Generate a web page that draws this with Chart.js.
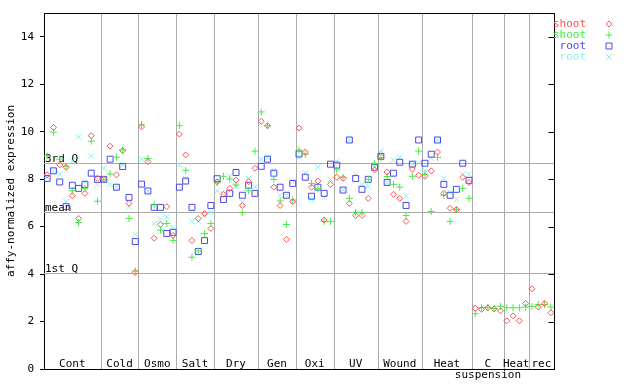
<!DOCTYPE html>
<html>
<head>
<meta charset="utf-8">
<script src="https://cdn.jsdelivr.net/npm/chart.js@4.4.0/dist/chart.umd.min.js"></script>
<style>
  body { margin: 0; background: #fff; }
</style>
</head>
<body>
<canvas id="expr-chart" width="640" height="384"></canvas>
<script>
// sample groups along the x axis (one x slot per sample)
const categories = ['Cont', 'Cold', 'Osmo', 'Salt', 'Dry', 'Gen', 'Oxi', 'UV', 'Wound', 'Heat', 'C\nsuspension', 'Heat', 'rec'];
const categorySizes = [9, 6, 6, 6, 7, 6, 6, 7, 7, 8, 5, 4, 4];

const seriesLabels = ['shoot', 'shoot', 'root', 'root'];
const seriesColors = ['#ff5252', '#44ee44', '#4a4af0', '#88f2f2'];

const shootRed = [
  8.18, 10.18, 8.6, 8.5, 7.3, 6.34, 7.4, 9.83, 8.04,
  8.0, 9.39, 8.18, 9.2, 6.98, 4.07,
  10.2, 8.74, 5.51, 6.09, 6.84, 5.63,
  9.9, 9.02, 5.41, 6.34, 6.55, 5.92,
  7.89, 7.36, 7.61, 7.96, 6.89, 7.89, 8.46,
  10.44, 10.25, 7.66, 6.89, 5.46, 7.05,
  10.15, 9.14, 7.66, 7.92, 6.28, 7.78,
  8.08, 8.03, 6.98, 6.47, 6.47, 7.19, 8.39,
  8.96, 8.3, 7.36, 7.19, 6.22, 8.42, 8.16,
  8.12, 8.35, 9.14, 7.4, 6.77, 6.72, 8.08, 7.86,
  2.56, 2.51, 2.58, 2.54, 2.45,
  2.03, 2.24, 2.03, 2.76,
  3.38, 2.61, 2.76, 2.37
];
const shootGreen = [
  8.98, 9.98, 8.84, 8.54, 7.51, 6.17, 7.61, 9.6, 7.07,
  8.0, 8.22, 8.92, 9.23, 6.34, 4.13,
  10.29, 8.87, 6.91, 5.85, 6.13, 5.42,
  10.25, 8.37, 4.71, 4.97, 5.71, 6.13,
  7.85, 8.12, 8.0, 7.75, 6.59, 7.51, 9.18,
  10.83, 10.25, 7.99, 7.08, 6.09, 7.12,
  9.23, 9.05, 7.82, 7.6, 6.22, 6.22,
  8.39, 8.08, 7.19, 6.6, 6.6, 7.99, 8.67,
  8.9, 8.11, 7.78, 7.66, 6.47, 8.12, 9.18,
  8.2, 6.64, 8.92, 7.32, 6.22, 6.72, 7.61, 7.19,
  2.33, 2.58, 2.6, 2.55, 2.64,
  2.58, 2.58, 2.58, 2.61,
  2.64, 2.72, 2.72, 2.61
];
const rootBlue = [
  8.03, 8.35, 7.88, 6.84, 7.74, 7.61, 7.78, 8.25, 7.99,
  7.99, 8.84, 7.66, 8.53, 7.23, 5.37,
  7.79, 7.5, 6.81, 6.81, 5.71, 5.76,
  7.66, 7.92, 6.81, 4.95, 5.41, 6.89,
  8.02, 7.14, 7.4, 8.28, 7.32, 7.74, 7.4,
  8.54, 8.84, 8.25, 7.66, 7.32, 7.82,
  9.06, 8.08, 7.28, 7.66, 7.4, 8.63,
  8.59, 7.54, 9.65, 8.03, 7.57, 7.99, 8.5,
  8.96, 7.86, 8.25, 8.71, 6.89, 8.63, 9.65,
  8.67, 9.05, 9.65, 7.78, 7.32, 7.57, 8.67, 7.95
];
const rootCyan = [
  8.08, 8.35, 8.22, 7.05, 8.77, 9.78, 7.9, 8.98, 7.78,
  8.46, 7.78, 7.66, 8.6, 6.84, 5.68,
  8.84, 7.5, 6.13, 6.32, 6.41, 5.96,
  8.6, 8.03, 6.22, 6.22, 6.47, 6.6,
  7.51, 7.37, 8.12, 7.71, 7.03, 8.03, 7.68,
  8.84, 8.92, 8.37, 7.32, 7.32, 7.91,
  8.92, 8.26, 7.14, 8.5, 7.23, 7.99,
  8.75, 7.54, 9.65, 8.2, 7.78, 7.7, 8.5,
  9.18, 7.86, 8.8, 8.92, 7.28, 8.63, 8.67,
  8.37, 8.88, 9.65, 8.03, 7.44, 7.14, 8.2, 8.2
];

const refLabels = ['3rd Q', 'mean', '1st Q'];
const refValues = [8.68, 6.62, 4.04];

const yMin = 0, yMax = 15, yStep = 2;
const totalSamples = categorySizes.reduce((a, b) => a + b, 0);

const FONT = '11px "DejaVu Sans Mono", monospace';
const toPoints = arr => arr.map((v, i) => ({ x: i, y: v }));

const decor = {
  id: 'decor',
  beforeDatasetsDraw(chart) {
    const { ctx, chartArea: { left, right, top, bottom }, scales: { x, y } } = chart;
    ctx.save();
    ctx.strokeStyle = '#aaaaaa';
    ctx.lineWidth = 1;
    ctx.beginPath();
    refValues.forEach(v => {
      const yy = Math.round(y.getPixelForValue(v)) + 0.5;
      ctx.moveTo(left, yy);
      ctx.lineTo(right, yy);
    });
    let start = 0;
    categorySizes.forEach((n, k) => {
      start += n;
      if (k === categorySizes.length - 1) return;
      const xx = Math.round(x.getPixelForValue(start - 0.5)) + 0.5;
      ctx.moveTo(xx, top);
      ctx.lineTo(xx, bottom);
    });
    ctx.stroke();

    ctx.fillStyle = '#000';
    ctx.font = FONT;
    ctx.textBaseline = 'alphabetic';
    ctx.textAlign = 'left';
    refValues.forEach((v, k) => {
      const yy = Math.round(y.getPixelForValue(v));
      ctx.fillText(refLabels[k], left + 1, yy - 1);
    });

    ctx.textAlign = 'center';
    start = 0;
    categories.forEach((name, k) => {
      const mid = start + categorySizes[k] / 2 - 0.5;
      start += categorySizes[k];
      const cx = x.getPixelForValue(mid);
      const lines = name.split('\n');
      ctx.fillText(lines[0], cx, bottom - 2);
      if (lines[1]) ctx.fillText(lines[1], cx, bottom + 9);
    });
    ctx.restore();
  },
  afterDraw(chart) {
    const { ctx, chartArea: { left, right, top, bottom }, scales: { y } } = chart;
    ctx.save();
    ctx.strokeStyle = '#000';
    ctx.lineWidth = 1;
    ctx.beginPath();
    const rx = Math.round(right) + 0.5;
    ctx.moveTo(left, Math.round(top) + 0.5);
    ctx.lineTo(rx, Math.round(top) + 0.5);
    ctx.moveTo(rx, top);
    ctx.lineTo(rx, bottom);
    for (let v = yMin; v <= 14; v += yStep) {
      const yy = Math.round(y.getPixelForValue(v)) + 0.5;
      ctx.moveTo(rx - 6, yy);
      ctx.lineTo(rx, yy);
    }
    ctx.stroke();

    // legend: coloured label, then its marker
    ctx.font = FONT;
    ctx.textAlign = 'right';
    ctx.textBaseline = 'middle';
    chart.data.datasets.forEach((ds, k) => {
      const ly = 24 + k * 11;
      ctx.fillStyle = seriesColors[k];
      ctx.fillText(seriesLabels[k], 586, ly);
      ctx.strokeStyle = seriesColors[k];
      ctx.fillStyle = 'rgba(0,0,0,0)';
      ctx.lineWidth = 1;
      Chart.helpers.drawPoint(ctx, {
        pointStyle: ds.pointStyle, radius: ds.pointRadius,
        borderWidth: 1, rotation: 0
      }, 609, ly);
    });
    ctx.restore();
  }
};

function makeSet(label, data, color, style, radius) {
  return {
    label: label,
    data: toPoints(data),
    pointStyle: style,
    pointRadius: radius,
    pointBorderWidth: 1,
    borderColor: color,
    backgroundColor: 'rgba(0,0,0,0)',
    showLine: false
  };
}

new Chart(document.getElementById('expr-chart'), {
  type: 'scatter',
  data: {
    datasets: [
      makeSet(seriesLabels[0], shootRed, seriesColors[0], 'rectRot', 3),
      makeSet(seriesLabels[1], shootGreen, seriesColors[1], 'cross', 3.5),
      makeSet(seriesLabels[2], rootBlue, seriesColors[2], 'rect', 4.2),
      makeSet(seriesLabels[3], rootCyan, seriesColors[3], 'crossRot', 4),
    ],
  },
  options: {
    responsive: false,
    animation: false,
    devicePixelRatio: 1,
    events: [],
    layout: { padding: { top: 13, right: 86, left: 0, bottom: 0 } },
    plugins: { legend: { display: false }, tooltip: { enabled: false } },
    scales: {
      x: {
        type: 'linear',
        min: -0.5,
        max: totalSamples - 0.5,
        ticks: { display: false },
        grid: { display: false },
        border: { display: true, color: '#000' },
        afterFit: s => { s.height = 15; }
      },
      y: {
        min: yMin,
        max: yMax,
        ticks: {
          stepSize: yStep,
          includeBounds: false,
          color: '#000',
          padding: 6,
          font: { family: '"DejaVu Sans Mono", monospace', size: 11 }
        },
        grid: { drawOnChartArea: false, drawTicks: true, tickLength: 4, color: '#000' },
        border: { display: true, color: '#000' },
        title: {
          display: true,
          text: 'affy-normalized expression',
          color: '#000',
          padding: 5,
          font: { family: '"DejaVu Sans Mono", monospace', size: 11 }
        },
        afterFit: s => { s.width = 44; }
      }
    }
  },
  plugins: [decor]
});
</script>
</body>
</html>
